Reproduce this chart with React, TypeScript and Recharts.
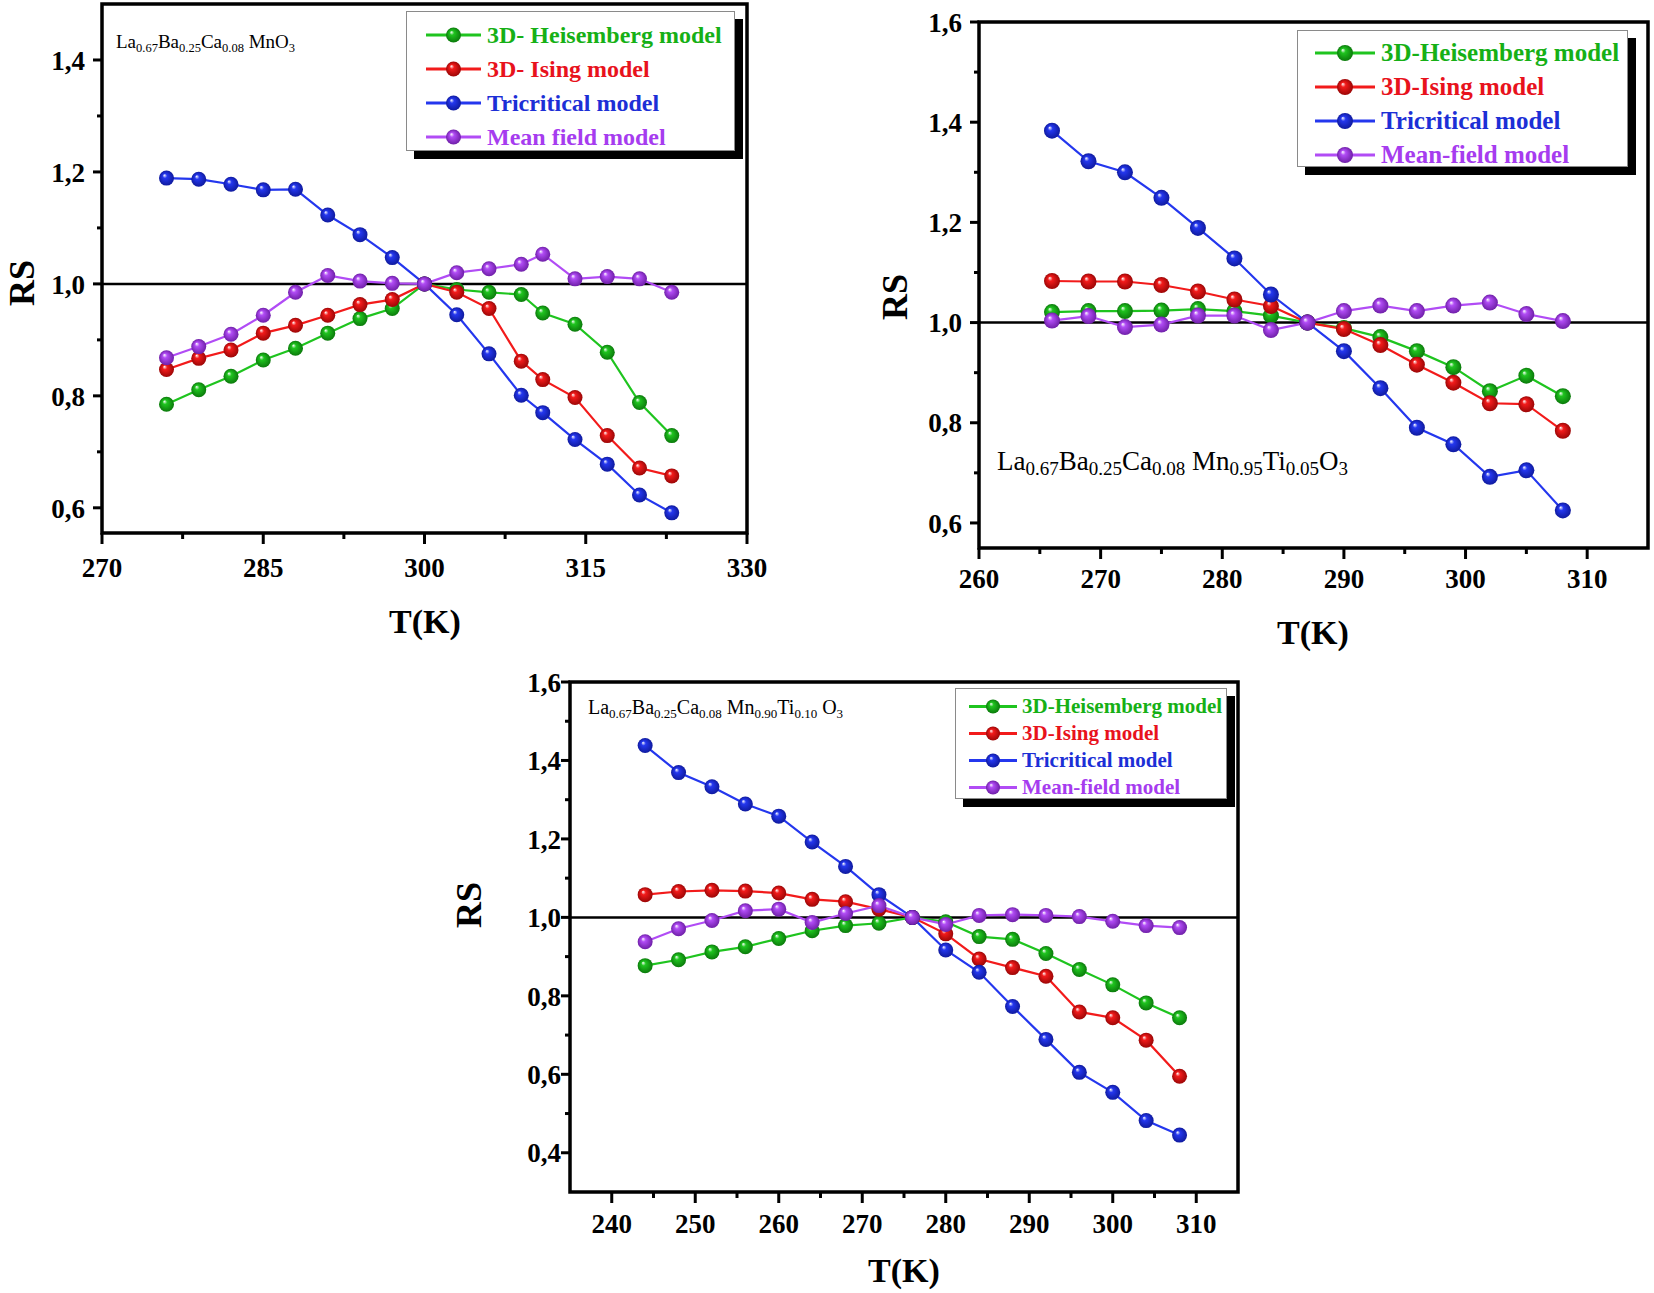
import { LineChart, Line, XAxis, YAxis, ReferenceLine, ReferenceArea } from 'recharts';

// ---- panel (a): La0.67Ba0.25Ca0.08MnO3
const tempA = [276, 279, 282, 285, 288, 291, 294, 297, 300, 303, 306, 309, 311, 314, 317, 320, 323];
const heisA = [0.785, 0.811, 0.835, 0.864, 0.885, 0.912, 0.938, 0.956, 1.0, 0.99, 0.985, 0.981, 0.948, 0.928, 0.878, 0.788, 0.729];
const isingA = [0.847, 0.867, 0.882, 0.912, 0.926, 0.944, 0.963, 0.972, 1.0, 0.985, 0.956, 0.862, 0.829, 0.797, 0.729, 0.671, 0.657];
const triA = [1.189, 1.187, 1.178, 1.168, 1.169, 1.123, 1.088, 1.047, 1.0, 0.945, 0.875, 0.801, 0.77, 0.722, 0.678, 0.623, 0.591];
const meanA = [0.868, 0.888, 0.91, 0.944, 0.985, 1.015, 1.005, 1.001, 1.0, 1.02, 1.027, 1.035, 1.053, 1.009, 1.013, 1.009, 0.985];

// ---- panel (b): Ti 0.05
const tempB = [266, 269, 272, 275, 278, 281, 284, 287, 290, 293, 296, 299, 302, 305, 308];
const heisB = [1.021, 1.023, 1.023, 1.024, 1.027, 1.023, 1.014, 1.0, 0.989, 0.971, 0.943, 0.911, 0.863, 0.894, 0.853];
const isingB = [1.083, 1.082, 1.082, 1.075, 1.062, 1.046, 1.033, 1.0, 0.987, 0.955, 0.916, 0.88, 0.839, 0.837, 0.784];
const triB = [1.383, 1.322, 1.3, 1.249, 1.189, 1.128, 1.056, 1.0, 0.943, 0.869, 0.79, 0.757, 0.692, 0.705, 0.625];
const meanB = [1.004, 1.013, 0.991, 0.996, 1.014, 1.014, 0.985, 1.0, 1.023, 1.034, 1.023, 1.034, 1.04, 1.017, 1.003];

// ---- panel (c): Ti 0.10
const tempC = [244, 248, 252, 256, 260, 264, 268, 272, 276, 280, 284, 288, 292, 296, 300, 304, 308];
const heisC = [0.877, 0.892, 0.912, 0.925, 0.946, 0.966, 0.979, 0.985, 1.0, 0.989, 0.951, 0.944, 0.908, 0.867, 0.828, 0.782, 0.744];
const isingC = [1.058, 1.066, 1.069, 1.067, 1.062, 1.046, 1.04, 1.021, 1.0, 0.958, 0.894, 0.872, 0.85, 0.759, 0.744, 0.687, 0.595];
const triC = [1.438, 1.369, 1.333, 1.289, 1.258, 1.192, 1.13, 1.058, 1.0, 0.917, 0.86, 0.773, 0.689, 0.605, 0.554, 0.482, 0.445];
const meanC = [0.938, 0.971, 0.992, 1.017, 1.021, 0.987, 1.01, 1.03, 1.0, 0.982, 1.005, 1.007, 1.005, 1.002, 0.99, 0.979, 0.974];

const namesA = ['3D- Heisemberg model', '3D- Ising model', 'Tricritical model', 'Mean field model'];
const namesBC = ['3D-Heisemberg model', '3D-Ising model', 'Tricritical model', 'Mean-field model'];

const xTicksA = [270, 285, 300, 315, 330];
const xMinorA = [277.5, 292.5, 307.5, 322.5];
const yTicksA = [0.6, 0.8, 1.0, 1.2, 1.4];
const yMinorA = [0.7, 0.9, 1.1, 1.3];
const xTicksB = [260, 270, 280, 290, 300, 310];
const xMinorB = [265, 275, 285, 295, 305];
const yTicksB = [0.6, 0.8, 1.0, 1.2, 1.4, 1.6];
const yMinorB = [0.7, 0.9, 1.1, 1.3, 1.5];
const xTicksC = [240, 250, 260, 270, 280, 290, 300, 310];
const xMinorC = [245, 255, 265, 275, 285, 295, 305];
const yTicksC = [0.4, 0.6, 0.8, 1.0, 1.2, 1.4, 1.6];
const yMinorC = [0.5, 0.7, 0.9, 1.1, 1.3, 1.5];

const COLORS = ['#1fc41f', '#f21b1b', '#2437ee', '#b14cf5'];
const DARK = ['#0b7a0b', '#9c0606', '#0f1a9e', '#6f1fa8'];
const TEXT_COLORS = ['#16b016', '#e8121c', '#1c2fd6', '#a63cef'];
const SERIF = '"Liberation Serif", "Times New Roman", serif';

const toRows = (t: number[], a: number[], b: number[], c: number[], d: number[]) =>
  t.map((x, i) => ({ t: x, s0: a[i], s1: b[i], s2: c[i], s3: d[i] }));

const has = (arr: number[], v: number) => arr.some((a) => Math.abs(a - v) < 1e-6);

function makeXTick(major: number[], majLen: number, minLen: number, labelDy: number) {
  return (props: any) => {
    const { x, y, payload } = props;
    const isMajor = has(major, payload.value);
    return (
      <g>
        <line x1={x} x2={x} y1={y} y2={y + (isMajor ? majLen : minLen)} stroke="#000" strokeWidth={3} />
        {isMajor && (
          <text x={x} y={y + labelDy} textAnchor="middle" fontFamily={SERIF} fontWeight="bold" fontSize={27} fill="#000">
            {payload.value}
          </text>
        )}
      </g>
    );
  };
}

function makeYTick(major: number[], majLen: number, minLen: number, gap: number) {
  return (props: any) => {
    const { x, y, payload } = props;
    const isMajor = has(major, payload.value);
    return (
      <g>
        <line x1={x - (isMajor ? majLen : minLen)} x2={x} y1={y} y2={y} stroke="#000" strokeWidth={3} />
        {isMajor && (
          <text x={x - gap} y={y} dy="0.36em" textAnchor="end" fontFamily={SERIF} fontWeight="bold" fontSize={27} fill="#000">
            {payload.value.toFixed(1).replace('.', ',')}
          </text>
        )}
      </g>
    );
  };
}

const ballDot = (i: number, r: number) => (p: any) => (
  <circle key={`d${i}-${p.index}`} cx={p.cx} cy={p.cy} r={r} fill={`url(#ball${i})`} />
);

function Panel(props: {
  left: number; top: number; width: number; height: number;
  margin: { top: number; right: number; left: number; bottom: number };
  rows: any[]; xDomain: [number, number]; yDomain: [number, number];
  xMajor: number[]; xMinor: number[]; yMajor: number[]; yMinor: number[];
  dotR: number; xLab: number; yGap: number;
}) {
  const p = props;
  return (
    <div style={{ position: 'absolute', left: p.left, top: p.top }}>
      <LineChart width={p.width} height={p.height} data={p.rows} margin={p.margin}>
        <XAxis
          dataKey="t" type="number" domain={p.xDomain} allowDataOverflow
          ticks={[...p.xMajor, ...p.xMinor].sort((a, b) => a - b)} interval={0}
          axisLine={false} tickLine={false} tickSize={0} tickMargin={0} height={50}
          tick={makeXTick(p.xMajor, 11, 6, p.xLab)}
        />
        <YAxis
          type="number" domain={p.yDomain} allowDataOverflow
          ticks={[...p.yMajor, ...p.yMinor].sort((a, b) => a - b)} interval={0}
          axisLine={false} tickLine={false} tickSize={0} tickMargin={0} width={60}
          tick={makeYTick(p.yMajor, 9, 5, p.yGap)}
        />
        <ReferenceLine y={1} stroke="#000" strokeWidth={2.5} />
        {[0, 1, 2, 3].map((i) => (
          <Line
            key={i} dataKey={`s${i}`} type="linear" stroke={COLORS[i]} strokeWidth={2.2}
            dot={ballDot(i, p.dotR)} activeDot={false} isAnimationActive={false}
          />
        ))}
        <ReferenceArea
          x1={p.xDomain[0]} x2={p.xDomain[1]} y1={p.yDomain[0]} y2={p.yDomain[1]}
          fill="none" fillOpacity={0} stroke="#000" strokeWidth={3.5}
        />
      </LineChart>
    </div>
  );
}

function LegendBox(props: {
  left: number; top: number; width: number; height: number; names: string[];
  padTop: number; row: number; lineX: number; lineLen: number; textX: number; fontSize: number; r: number;
}) {
  const p = props;
  return (
    <div
      style={{
        position: 'absolute', left: p.left, top: p.top, width: p.width, height: p.height,
        background: '#fff', border: '1px solid #8a8a8a', boxShadow: '8px 8px 0 #000', boxSizing: 'border-box',
      }}
    >
      {p.names.map((n, i) => (
        <div key={n} style={{ position: 'absolute', left: 0, top: p.padTop + i * p.row, height: p.row, width: '100%' }}>
          <svg width={p.lineLen + 20} height={p.row} style={{ position: 'absolute', left: p.lineX - 10, top: 0 }}>
            <line x1={10} x2={10 + p.lineLen} y1={p.row / 2} y2={p.row / 2} stroke={COLORS[i]} strokeWidth={3} />
            <circle cx={10 + p.lineLen / 2} cy={p.row / 2} r={p.r} fill={`url(#ball${i})`} />
          </svg>
          <span
            style={{
              position: 'absolute', left: p.textX, top: 0, lineHeight: `${p.row}px`, whiteSpace: 'nowrap',
              fontFamily: SERIF, fontWeight: 'bold', fontSize: p.fontSize, color: TEXT_COLORS[i],
            }}
          >
            {n}
          </span>
        </div>
      ))}
    </div>
  );
}

// chemical formula as text with subscripts
function Formula(props: { left: number; top: number; size: number; sub: number; parts: [string, string][] }) {
  return (
    <div style={{ position: 'absolute', left: props.left, top: props.top, fontFamily: SERIF, fontSize: props.size, whiteSpace: 'nowrap', lineHeight: 1 }}>
      {props.parts.map(([a, s], i) => (
        <span key={i}>
          {a}
          {s && <sub style={{ fontSize: props.sub, verticalAlign: 'baseline', position: 'relative', top: '0.28em' }}>{s}</sub>}
        </span>
      ))}
    </div>
  );
}

const AxisTitle = ({ x, y, text, rotate, size }: { x: number; y: number; text: string; rotate?: boolean; size: number }) => (
  <div
    style={{
      position: 'absolute', left: x, top: y, transform: `translate(-50%, -50%)${rotate ? ' rotate(-90deg)' : ''}`,
      fontFamily: SERIF, fontWeight: 'bold', fontSize: size, whiteSpace: 'nowrap', lineHeight: 1,
    }}
  >
    {text}
  </div>
);

export default function App() {
  return (
    <div style={{ position: 'absolute', left: 0, top: 0, width: 1654, height: 1293, background: '#fff', overflow: 'hidden' }}>
      <svg width={0} height={0} style={{ position: 'absolute' }}>
        <defs>
          {COLORS.map((c, i) => (
            <radialGradient key={i} id={`ball${i}`} cx="50%" cy="50%" r="50%" fx="35%" fy="30%">
              <stop offset="0%" stopColor="#ffffff" />
              <stop offset="30%" stopColor={c} />
              <stop offset="100%" stopColor={DARK[i]} />
            </radialGradient>
          ))}
        </defs>
      </svg>

      <Panel
        left={0} top={0} width={790} height={640}
        margin={{ top: 4, right: 43, left: 42, bottom: 57 }}
        rows={toRows(tempA, heisA, isingA, triA, meanA)}
        xDomain={[270, 330]} yDomain={[0.555, 1.5]}
        xMajor={xTicksA} xMinor={xMinorA} yMajor={yTicksA} yMinor={yMinorA}
        dotR={7.5} xLab={44} yGap={17}
      />
      <Panel
        left={880} top={0} width={774} height={650}
        margin={{ top: 22, right: 6, left: 39, bottom: 52 }}
        rows={toRows(tempB, heisB, isingB, triB, meanB)}
        xDomain={[260, 315]} yDomain={[0.55, 1.6]}
        xMajor={xTicksB} xMinor={xMinorB} yMajor={yTicksB} yMinor={yMinorB}
        dotR={8} xLab={40} yGap={17}
      />
      <Panel
        left={470} top={640} width={800} height={653}
        margin={{ top: 42, right: 32, left: 40, bottom: 51 }}
        rows={toRows(tempC, heisC, isingC, triC, meanC)}
        xDomain={[235, 315]} yDomain={[0.3, 1.6]}
        xMajor={xTicksC} xMinor={xMinorC} yMajor={yTicksC} yMinor={yMinorC}
        dotR={7.5} xLab={41} yGap={9}
      />

      <LegendBox left={406} top={11} width={329} height={140} names={namesA}
        padTop={6} row={34} lineX={19} lineLen={55} textX={80} fontSize={24} r={7.5} />
      <LegendBox left={1297} top={30} width={331} height={137} names={namesBC}
        padTop={5} row={34} lineX={17} lineLen={60} textX={83} fontSize={25} r={8} />
      <LegendBox left={955} top={688} width={272} height={111} names={namesBC}
        padTop={4} row={27} lineX={13} lineLen={48} textX={66} fontSize={21} r={7} />

      <Formula left={116} top={32} size={19} sub={12.5}
        parts={[['La', '0.67'], ['Ba', '0.25'], ['Ca', '0.08'], [' MnO', '3']]} />
      <Formula left={997} top={448} size={27} sub={19}
        parts={[['La', '0.67'], ['Ba', '0.25'], ['Ca', '0.08'], [' Mn', '0.95'], ['Ti', '0.05'], ['O', '3']]} />
      <Formula left={588} top={697} size={20} sub={13}
        parts={[['La', '0.67'], ['Ba', '0.25'], ['Ca', '0.08'], [' Mn', '0.90'], ['Ti', '0.10'], [' O', '3']]} />

      <AxisTitle x={22} y={283} text="RS" rotate size={36} />
      <AxisTitle x={425} y={622} text="T(K)" size={34} />
      <AxisTitle x={895} y={297} text="RS" rotate size={36} />
      <AxisTitle x={1313} y={633} text="T(K)" size={34} />
      <AxisTitle x={469} y={905} text="RS" rotate size={36} />
      <AxisTitle x={904} y={1271} text="T(K)" size={34} />
    </div>
  );
}
